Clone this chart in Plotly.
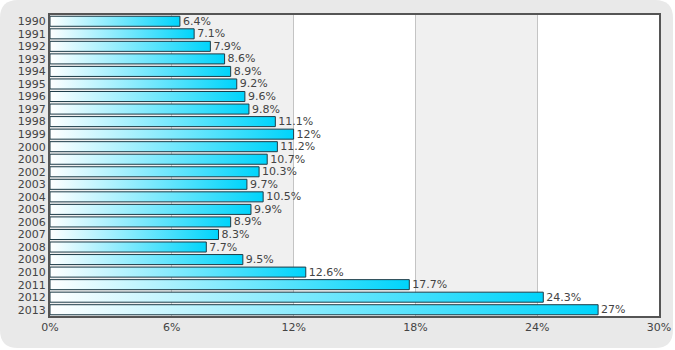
import plotly.graph_objects as go

years = [str(y) for y in range(1990, 2014)]
values = [6.4, 7.1, 7.9, 8.6, 8.9, 9.2, 9.6, 9.8, 11.1, 12, 11.2, 10.7, 10.3,
          9.7, 10.5, 9.9, 8.9, 8.3, 7.7, 9.5, 12.6, 17.7, 24.3, 27]
x_ticks = [0, 6, 12, 18, 24, 30]

W, H = 675, 350
ML, MR, MT, MB = 50, 16, 15, 34
PW, PH = W - ML - MR, H - MT - MB

def px(x):
    return (x - ML) / PW

def py(y):
    return (H - MB - y) / PH

def rounded_rect(x0, y0, x1, y1, r):
    pts = [
        f"M {px(x0 + r)},{py(y0)}",
        f"L {px(x1 - r)},{py(y0)}",
        f"Q {px(x1)},{py(y0)} {px(x1)},{py(y0 + r)}",
        f"L {px(x1)},{py(y1 - r)}",
        f"Q {px(x1)},{py(y1)} {px(x1 - r)},{py(y1)}",
        f"L {px(x0 + r)},{py(y1)}",
        f"Q {px(x0)},{py(y1)} {px(x0)},{py(y1 - r)}",
        f"L {px(x0)},{py(y0 + r)}",
        f"Q {px(x0)},{py(y0)} {px(x0 + r)},{py(y0)}",
        "Z",
    ]
    return " ".join(pts)

BAR_H = 0.4
idx = list(range(len(years)))

fig = go.Figure()

# text labels via a transparent bar trace
fig.add_trace(go.Bar(
    x=values, y=idx, orientation="h", width=2 * BAR_H,
    marker=dict(color="rgba(0,0,0,0)", line=dict(width=0)),
    text=[f"{v:g}%" for v in values], textposition="outside",
    constraintext="none",
    outsidetextfont=dict(family="DejaVu Sans", size=11, color="#444444"),
    cliponaxis=False, hoverinfo="skip", showlegend=False,
))

# gradient-filled bars
for i, v in zip(idx, values):
    fig.add_trace(go.Scatter(
        x=[0, v, v, 0, 0],
        y=[i - BAR_H, i - BAR_H, i + BAR_H, i + BAR_H, i - BAR_H],
        mode="lines", fill="toself",
        line=dict(color="#1e3c48", width=1),
        fillgradient=dict(type="horizontal",
                          colorscale=[[0, "#ffffff"], [1, "#00d4fb"]]),
        hovertemplate=f"{years[i]}: {v:g}%<extra></extra>",
        showlegend=False,
    ))

shapes = [
    dict(type="path", xref="paper", yref="paper", layer="below",
         path=rounded_rect(0, 0, 673, 348, 18),
         fillcolor="#e9e9e9", line=dict(width=0)),
    dict(type="rect", xref="paper", yref="paper", x0=0, x1=1, y0=0, y1=1,
         fillcolor="#ffffff", line=dict(width=0), layer="below"),
    dict(type="rect", xref="x", yref="paper", x0=0, x1=12, y0=0, y1=1,
         fillcolor="#f0f0f0", line=dict(width=0), layer="below"),
    dict(type="rect", xref="x", yref="paper", x0=18, x1=24, y0=0, y1=1,
         fillcolor="#f0f0f0", line=dict(width=0), layer="below"),
]

fig.update_layout(
    width=W, height=H,
    margin=dict(l=ML, r=MR, t=MT, b=MB, autoexpand=False),
    paper_bgcolor="#ffffff", plot_bgcolor="rgba(0,0,0,0)",
    shapes=shapes, bargap=0.2,
    font=dict(family="DejaVu Sans", size=11, color="#444444"),
    xaxis=dict(range=[0, 30], tickvals=x_ticks,
               ticktext=[f"{t}%" for t in x_ticks],
               showgrid=True, gridcolor="#c4c4c4", gridwidth=1,
               showline=True, linecolor="#555555", linewidth=2, mirror=True,
               zeroline=False, ticks="", fixedrange=True, automargin=False),
    yaxis=dict(range=[len(years) - 0.5, -0.5], tickvals=idx, ticktext=years,
               showgrid=False, showline=True, linecolor="#555555",
               linewidth=2, mirror=True, zeroline=False, ticks="",
               fixedrange=True, automargin=False),
)

fig.write_html("out.html")
